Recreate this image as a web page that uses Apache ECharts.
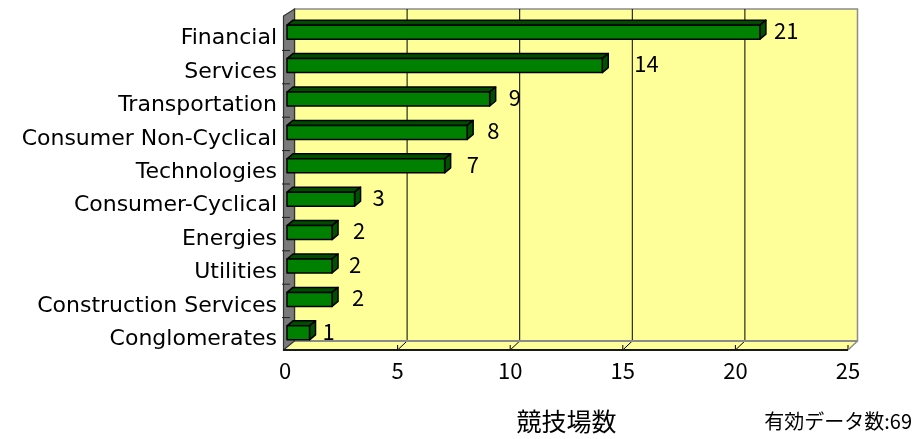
<!DOCTYPE html>
<html>
<head>
<meta charset="utf-8">
<script src="https://cdn.jsdelivr.net/npm/echarts@6/dist/echarts.min.js"></script>
<style>
  html, body { margin: 0; padding: 0; background: #ffffff; }
  #chart { width: 915px; height: 439px; }
</style>
</head>
<body>
<div id="chart"></div>
<script>
// Sectors and number of venues per sector
const categories = [
  'Financial', 'Services', 'Transportation', 'Consumer Non-Cyclical',
  'Technologies', 'Consumer-Cyclical', 'Energies', 'Utilities',
  'Construction Services', 'Conglomerates'
];
const counts = [21, 14, 9, 8, 7, 3, 2, 2, 2, 1];
const xTicks = [0, 5, 10, 15, 20, 25];
const axisTitle = '競技場数';
const footnote = '有効データ数:69';

// Space between each bar's end and its value label (px)
const labelGap = [8, 26, 13, 14, 16, 12, 15, 11, 14, 7];

const NUM_FONT = '"Noto Sans CJK JP", sans-serif';
const CAT_FONT = '"DejaVu Sans", "Noto Sans CJK JP", sans-serif';
const WALL = '#FFFF99';
const DEPTH = { x: 9.5, y: -9 };      // depth of the chart box
const BAR_DEPTH = { x: 6, y: -5 };    // depth of each bar
const BAR_SHIFT = { x: 2, y: -0.5 };  // front face of bars sits slightly inside the box
const BAR_H = 14;

// Back wall, side wall, floor and gridlines of the 3D box
function renderBox(params, api) {
  const cs = params.coordSys;
  const xL = api.coord([xTicks[0], 0])[0];
  const xR = api.coord([xTicks[xTicks.length - 1], 0])[0];
  const yF = cs.y + cs.height;          // front floor edge
  const yB = yF + DEPTH.y;              // back floor edge
  const yT = cs.y - 7;                  // top of back wall
  const kids = [];
  // back wall
  kids.push({ type: 'rect', shape: { x: xL + DEPTH.x, y: yT, width: xR - xL, height: yB - yT },
    style: { fill: WALL, stroke: '#8c8c8c', lineWidth: 1.5 } });
  // floor
  kids.push({ type: 'polygon', shape: { points: [[xL, yF], [xR, yF], [xR + DEPTH.x, yB], [xL + DEPTH.x, yB]] },
    style: { fill: WALL, stroke: null } });
  // gridlines on back wall and floor
  xTicks.forEach(function (t, i) {
    const x = api.coord([t, 0])[0];
    if (i > 0 && i < xTicks.length - 1) {
      kids.push({ type: 'line', shape: { x1: x + DEPTH.x, y1: yT, x2: x + DEPTH.x, y2: yB },
        style: { stroke: '#000', lineWidth: 1 } });
      kids.push({ type: 'line', shape: { x1: x, y1: yF, x2: x + DEPTH.x, y2: yB },
        style: { stroke: '#000', lineWidth: 1 } });
    }
    kids.push({ type: 'line', shape: { x1: x, y1: yF, x2: x, y2: yF - 5 },
      style: { stroke: '#000', lineWidth: 1 } });
  });
  // back floor edge
  kids.push({ type: 'line', shape: { x1: xL + DEPTH.x, y1: yB, x2: xR + DEPTH.x, y2: yB },
    style: { stroke: '#8c8c8c', lineWidth: 2 } });
  // right floor edge
  kids.push({ type: 'line', shape: { x1: xR, y1: yF, x2: xR + DEPTH.x, y2: yB },
    style: { stroke: '#8c8c8c', lineWidth: 1.5 } });
  // left side wall
  kids.push({ type: 'polygon', shape: { points: [[xL - 1.5, yT - DEPTH.y - 2], [xL + DEPTH.x, yT], [xL + DEPTH.x, yB], [xL - 1.5, yF]] },
    style: { fill: '#7a7a7a', stroke: '#333', lineWidth: 1.2 } });
  // category dividers on the side wall
  const band = cs.height / categories.length;
  for (let k = 1; k < categories.length; k++) {
    const y = cs.y + band * k + 1;
    kids.push({ type: 'line', shape: { x1: xL - 3, y1: y, x2: xL + 5, y2: y },
      style: { stroke: '#222', lineWidth: 1 } });
  }
  // front floor edge
  kids.push({ type: 'line', shape: { x1: xL - 2, y1: yF, x2: xR, y2: yF },
    style: { stroke: '#1a1a1a', lineWidth: 2 } });
  return { type: 'group', children: kids };
}

// One 3D bar with its value label
function renderBar(params, api) {
  const v = api.value(0);
  const idx = api.value(1);
  const p0 = api.coord([0, idx]);
  const p1 = api.coord([v, idx]);
  const x0 = p0[0] + BAR_SHIFT.x;
  const x1 = p1[0] + BAR_SHIFT.x;
  const yc = p0[1] + BAR_SHIFT.y;
  const yt = yc - BAR_H / 2;
  const yb = yc + BAR_H / 2;
  const dx = BAR_DEPTH.x, dy = BAR_DEPTH.y;
  const edge = { stroke: '#000', lineWidth: 1.5, lineJoin: 'round' };
  return {
    type: 'group',
    children: [
      { type: 'polygon', shape: { points: [[x0, yt], [x1, yt], [x1 + dx, yt + dy], [x0 + dx, yt + dy]] },
        style: Object.assign({ fill: '#004d00' }, edge) },
      { type: 'polygon', shape: { points: [[x1, yt], [x1 + dx, yt + dy], [x1 + dx, yb + dy], [x1, yb]] },
        style: Object.assign({ fill: '#005200' }, edge) },
      { type: 'rect', shape: { x: x0, y: yt, width: x1 - x0, height: yb - yt },
        style: Object.assign({ fill: '#008000' }, edge) },
      { type: 'text', x: x1 + dx + labelGap[params.dataIndex], y: yc - 1.5,
        style: { text: String(v), fill: '#000', font: '22px ' + NUM_FONT,
                 align: 'left', verticalAlign: 'middle' } }
    ]
  };
}

const chart = echarts.init(document.getElementById('chart'), null, { renderer: 'canvas' });
chart.setOption({
  backgroundColor: '#ffffff',
  animation: false,
  grid: { left: 285, right: 67, top: 16, bottom: 86, containLabel: false },
  xAxis: {
    type: 'value', min: 0, max: 25, interval: 5,
    axisLine: { show: false }, axisTick: { show: false }, splitLine: { show: false },
    axisLabel: { color: '#000', fontSize: 22, fontFamily: NUM_FONT, margin: 10 },
    name: axisTitle, nameLocation: 'middle', nameGap: 59,
    nameTextStyle: { color: '#000', fontSize: 25, fontFamily: NUM_FONT }
  },
  yAxis: {
    type: 'category', data: categories, inverse: true,
    axisLine: { show: false }, axisTick: { show: false }, splitLine: { show: false },
    axisLabel: { color: '#000', fontSize: 22, fontFamily: CAT_FONT, margin: 8,
                 verticalAlign: 'top', lineHeight: 12 }
  },
  graphic: [
    { type: 'text', right: 3, top: 411,
      style: { text: footnote, fill: '#000', font: '20px ' + NUM_FONT } }
  ],
  series: [
    { type: 'custom', name: 'box', renderItem: renderBox, data: [[0, 0]], z: 1, clip: false, silent: true },
    { type: 'custom', name: 'venues', renderItem: renderBar, z: 2, clip: false,
      encode: { x: 0, y: 1 },
      data: counts.map(function (c, i) { return [c, i]; }) }
  ]
});
</script>
</body>
</html>
